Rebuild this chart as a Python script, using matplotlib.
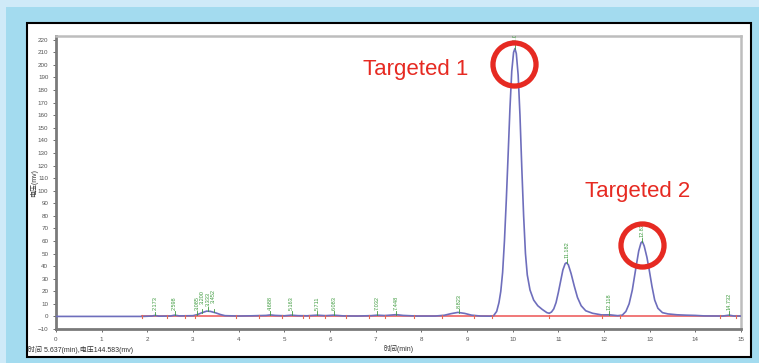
import numpy as np
import matplotlib.pyplot as plt
from matplotlib.patches import Rectangle

plt.rcParams['font.family'] = ['Liberation Sans', 'Noto Sans CJK SC', 'DejaVu Sans']

# chromatogram trace (time in min, signal in mV)
trace_t = [0.0, 1.9, 2.1, 2.17, 2.25, 2.5, 2.6, 2.7, 3.0, 3.1, 3.2, 3.3, 3.38, 3.5, 3.6, 3.7,
           4.0, 4.3, 4.6, 4.69, 4.8, 5.0, 5.15, 5.3, 5.5, 5.71, 5.9, 6.08, 6.3, 6.6, 6.9, 7.03,
           7.2, 7.45, 7.6, 7.9, 8.3, 8.5, 8.65, 8.8, 8.95, 9.1, 9.3, 9.5, 9.58, 9.65, 9.70,
           9.74, 9.78, 9.82, 9.86, 9.90, 9.94, 9.98, 10.02, 10.05, 10.08, 10.12, 10.16, 10.20,
           10.24, 10.28, 10.32, 10.38, 10.46, 10.55, 10.65, 10.75, 10.80, 10.85, 10.90, 10.95,
           11.00, 11.05, 11.10, 11.15, 11.18, 11.22, 11.28, 11.35, 11.42, 11.50, 11.60, 11.75,
           11.95, 12.12, 12.30, 12.40, 12.48, 12.55, 12.62, 12.70, 12.76, 12.81, 12.84, 12.88,
           12.94, 12.99, 13.05, 13.11, 13.18, 13.28, 13.4, 13.6, 13.8, 14.0, 14.2, 14.6, 14.74,
           14.85, 15.0]
trace_v = [0.0, 0.0, 0.3, 0.8, 0.2, 0.3, 1.0, 0.4, 0.6, 1.5, 3.0, 4.2, 4.0, 2.8, 1.5, 0.6,
           0.3, 0.5, 0.8, 1.2, 0.8, 0.5, 1.0, 0.6, 0.5, 1.0, 0.6, 1.0, 0.4, 0.3, 0.6, 1.0,
           0.7, 1.4, 0.8, 0.3, 0.3, 0.9, 2.2, 3.2, 2.4, 1.0, 0.3, 0.2, 0.5, 4, 11,
           20, 35, 60, 92, 128, 165, 195, 210, 213, 209, 192, 160, 118,
           80, 50, 33, 21, 13, 8.5, 5.5, 3, 2.5, 3.5, 6, 11,
           19, 28, 37, 42, 42.7, 41, 34, 24, 15, 8.5, 4.5, 2.5,
           1.2, 1.3, 0.6, 1.0, 4, 10, 21, 39, 52, 58.5, 59.5, 56,
           47, 37, 24, 13, 6.5, 3, 2, 1.3, 1.0, 0.8, 0.4, 0.3, 1.0,
           0.3, 0.3]

# peak retention times printed above the peaks
peak_rt = [2.173, 2.598, 3.085, 3.200, 3.333, 3.452, 4.688, 5.163, 5.711, 6.083,
           7.032, 7.448, 8.823, 10.053, 11.182, 12.118, 12.838, 14.732]

# integration start/end marks on the baseline
mark_t = [1.88, 2.42, 2.82, 3.05, 3.95, 4.45, 4.95, 5.4, 5.55, 5.9, 6.35, 6.85,
          7.2, 7.85, 8.45, 9.15, 9.55, 10.8, 11.95, 12.35, 14.55, 14.9]

targets = ["Targeted 1", "Targeted 2"]
target_rt = [10.03, 12.83]
target_v = [200.5, 57]
label_pos = [(6.72, 196), (11.58, 99)]

fig = plt.figure(figsize=(7.59, 3.63), dpi=100)
fig.patch.set_facecolor('#a3dbef')
fig.patches.append(Rectangle((0, 1 - 7 / 363), 1, 7 / 363, transform=fig.transFigure,
                             facecolor='#cfeaf8', edgecolor='none', zorder=-2))
fig.patches.append(Rectangle((0, 0), 6 / 759, 1 - 7 / 363, transform=fig.transFigure,
                             facecolor='#cfeaf8', edgecolor='none', zorder=-2))
# white panel with black frame
fig.patches.append(Rectangle((27 / 759, 1 - 357 / 363), 724 / 759, 334 / 363,
                             transform=fig.transFigure, facecolor='white',
                             edgecolor='black', linewidth=1.5, zorder=-1))

ax = fig.add_axes([56 / 759, 1 - 329 / 363, 685 / 759, 293 / 363])
ax.set_zorder(1)
ax.set_facecolor('white')

ax.plot(trace_t, trace_v, color='#6e6ebc', linewidth=1.2, zorder=3)
ax.plot([1.88, 15], [0, 0], color='#f07878', linewidth=1.4, zorder=2)

for t in mark_t:
    ax.plot([t, t], [-1.2, 1.2], color='#e86a50', linewidth=0.8, zorder=4)

for rt in peak_rt:
    h = np.interp(rt, trace_t, trace_v)
    # the crowded labels near 3 min sit at slightly different heights
    lift = 3 if rt in (3.200, 3.452) else 0
    ax.plot([rt, rt], [h, h + 3], color='#3d9a3d', linewidth=0.6, zorder=4)
    ax.text(rt, h + 4 + lift, f"{rt:.3f}", rotation=90, ha='center', va='bottom',
            fontsize=4.0, color='#3d9a3d', clip_on=True, zorder=4)

for name, rt, v, pos in zip(targets, target_rt, target_v, label_pos):
    ax.plot(rt, v, marker='o', markersize=31, fillstyle='none',
            markeredgecolor='#e62a22', markeredgewidth=3.8, zorder=6)
    ax.text(pos[0], pos[1], name, fontsize=16, color='#e62a22', va='center',
            ha='left', zorder=6)

ax.set_xlim(0, 15)
ax.set_ylim(-10, 223)
ax.set_xticks(range(0, 16))
ax.set_yticks(range(-10, 221, 10))
ax.tick_params(labelsize=4.5, colors='#555555', length=2, width=0.6)
ax.set_xlabel("时间(min)", fontsize=5, color='#333333', labelpad=2)
ax.set_ylabel("电压(mv)", fontsize=5, color='#333333', labelpad=0)

for s in ['left', 'bottom']:
    ax.spines[s].set_color('#7a7a7a')
    ax.spines[s].set_linewidth(2)
for s in ['top', 'right']:
    ax.spines[s].set_color('#bdbdbd')
    ax.spines[s].set_linewidth(1.8)

fig.text(28 / 759, 1 - 350 / 363, "时间 5.637(min),电压144.583(mv)", fontsize=5,
         color='#333333', va='center')

fig.savefig("out.png", dpi=100, facecolor=fig.get_facecolor())
